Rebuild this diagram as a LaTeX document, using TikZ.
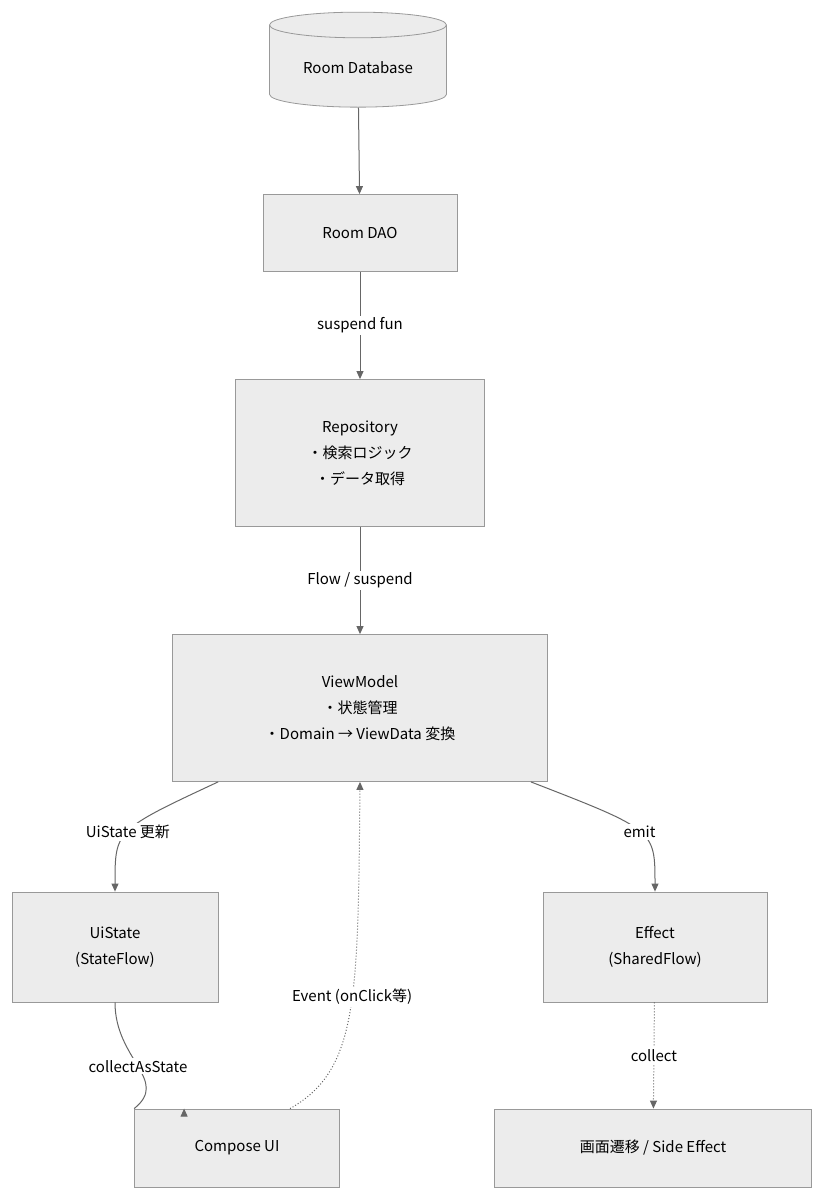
\documentclass[tikz,border=0pt]{standalone}
\usepackage{fontspec}
\setmainfont{Noto Sans CJK JP}
\usetikzlibrary{shapes.geometric,arrows.meta}
\definecolor{boxfill}{HTML}{ECECEC}
\definecolor{boxline}{HTML}{999999}
\definecolor{edgecol}{HTML}{666666}
\tikzset{
  box/.style={draw=boxline, fill=boxfill, line width=0.8pt, align=center, font=\fontsize{15}{26}\selectfont},
  edge/.style={draw=edgecol, line width=1pt, -{Triangle[length=8pt,width=7pt]}},
  lbl/.style={fill=white, inner sep=2pt, font=\fontsize{15}{20}\selectfont}
}
\begin{document}
\begin{tikzpicture}[x=1pt,y=-1pt]
	\useasboundingbox (0,0) rectangle (825,1200);
	
	% boxes
	\node[box, shape=cylinder, shape border rotate=90, aspect=0.22, minimum width=177pt, minimum height=95pt] (db) at (358,68) {Room Database};
	\node[box, minimum width=194pt, minimum height=77pt] (dao) at (360,233) {Room DAO};
	\node[box, minimum width=249pt, minimum height=147pt] (repo) at (360,453) {Repository\\・検索ロジック\\・データ取得};
	\node[box, minimum width=375pt, minimum height=147pt] (vm) at (360,708) {ViewModel\\・状態管理\\・Domain → ViewData 変換};
	\node[box, minimum width=206pt, minimum height=110pt] (ui) at (115,947) {UiState\\(StateFlow)};
	\node[box, minimum width=224pt, minimum height=110pt] (eff) at (655,947) {Effect\\(SharedFlow)};
	\node[box, minimum width=205pt, minimum height=78pt] (comp) at (237,1148) {Compose UI};
	\node[box, minimum width=317pt, minimum height=78pt] (nav) at (653,1148) {画面遷移 / Side Effect};
	
	% connectors
	\draw[edge] (db) -- (dao);
	\draw[edge] (dao) -- node[lbl] {suspend fun} (repo);
	\draw[edge] (repo) -- node[lbl] {Flow / suspend} (vm);
	\draw[edge] (vm.south west) ++(46,0) coordinate (vmL)
	  (vmL) .. controls (115,830) and (115,830) .. node[lbl, pos=0.5] {UiState 更新} (ui.north);
	\draw[edge] (vm.south east) ++(-17,0) coordinate (vmR)
	  (vmR) .. controls (655,830) and (655,830) .. node[lbl, pos=0.5] {emit} (eff.north);
	\draw[edge] (ui.south) .. controls (115,1060) and (170,1080) .. node[lbl, pos=0.5] {collectAsState} (comp.north west) ++(50,0);
	\draw[edge, dotted] (comp.north) ++(53,0) coordinate (cR)
	  (cR) .. controls (358,1070) and (358,1000) .. node[lbl, pos=0.55] {Event (onClick等)} (vm.south);
	\draw[edge, dotted] (eff) -- node[lbl] {collect} (nav);
\end{tikzpicture}
\end{document}
